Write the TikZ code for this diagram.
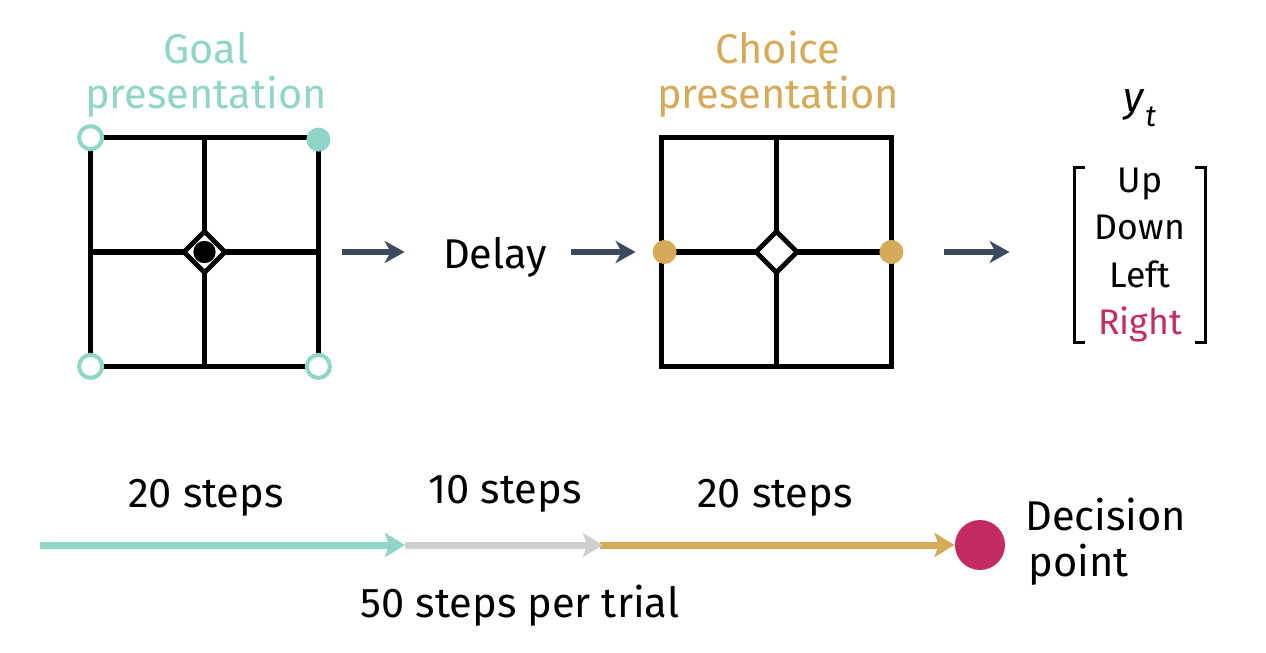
\documentclass[tikz,border=0pt]{standalone}
\usepackage{fontspec}
\setmainfont{Fira Sans}
\usetikzlibrary{arrows.meta,positioning,shapes.geometric}
\definecolor{goalc}{HTML}{8FD5C8}
\definecolor{choicec}{HTML}{D5AA58}
\definecolor{delayc}{HTML}{CFCFCF}
\definecolor{rightc}{HTML}{C42A63}
\definecolor{flowc}{HTML}{3C4A5F}

\begin{document}
\begin{tikzpicture}[x=0.5pt,y=-0.5pt,
    every node/.style={inner sep=0pt, font=\fontsize{20.8}{25}\selectfont},
    label/.style={anchor=base},
    wall/.style={line width=2.6pt, line cap=rect},
    agent/.style={shape=diamond, draw, line width=2.4pt, fill=white,
      minimum size=21.5pt, aspect=1},
    opendot/.style={shape=circle, draw=goalc, line width=2pt, fill=white,
      minimum size=11.5pt},
    fulldot/.style={shape=circle, minimum size=12pt},
    flow/.style={line width=3pt, flowc,
      -{Stealth[length=10pt,width=11pt,inset=3pt]}},
    phase/.style={line width=3.5pt,
      -{Stealth[length=10pt,width=12pt,inset=2pt]}},
    bracket/.style={line width=1.6pt}]
  \useasboundingbox (0,0) rectangle (1266,653);

  % goal presentation
  \node[label, text=goalc] (goaltop) at (206,63) {Goal};
  \node[label, text=goalc] (goalbot) at (206,108) {presentation};
  \node[minimum width=113.5pt, minimum height=114pt] (goalgrid) at (204.5,252) {};
  \draw[wall] (goalgrid.north west) rectangle (goalgrid.south east);
  \draw[wall] (goalgrid.north) -- (goalgrid.south)
    (goalgrid.west) -- (goalgrid.east);
  \node[agent] (goalagent) at (goalgrid.center) {};
  \fill (goalagent.center) circle[radius=5.6pt];
  \node[opendot] (goalnw) at (goalgrid.north west) {};
  \node[opendot] (goalsw) at (goalgrid.south west) {};
  \node[opendot] (goalse) at (goalgrid.south east) {};
  \node[fulldot, fill=goalc] (goalne) at ([yshift=-1pt]goalgrid.north east) {};

  % delay
  \node[label] (delay) at (495,268) {Delay};

  % choice presentation
  \node[label, text=choicec] (choicetop) at (778,63) {Choice};
  \node[label, text=choicec] (choicebot) at (778,108) {presentation};
  \node[minimum width=114.5pt, minimum height=114pt] (choicegrid) at (776.5,252) {};
  \draw[wall] (choicegrid.north west) rectangle (choicegrid.south east);
  \draw[wall] (choicegrid.north) -- (choicegrid.south)
    (choicegrid.west) -- (choicegrid.east);
  \node[agent] (choiceagent) at (choicegrid.center) {};
  \node[fulldot, fill=choicec] (choicew) at ([xshift=1.5pt]choicegrid.west) {};
  \node[fulldot, fill=choicec] (choicee) at (choicegrid.east) {};

  % output
  \node[label] (ylabel) at (1140,112) {\textit{y}\raisebox{-0.35em}{\fontsize{15}{18}\selectfont\textit{t}}};
  \node[align=center, font=\fontsize{17.8}{23.8}\selectfont,
    minimum height=85pt, inner xsep=10pt] (actions) at (1140,255)
    {Up\\Down\\Left\\\textcolor{rightc}{Right}};
  \draw[bracket] ([xshift=5pt]actions.north west) -- (actions.north west)
    -- (actions.south west) -- ([xshift=5pt]actions.south west);
  \draw[bracket] ([xshift=-5pt]actions.north east) -- (actions.north east)
    -- (actions.south east) -- ([xshift=-5pt]actions.south east);

  \draw[flow, shorten <=12pt, shorten >=19pt] (goalgrid) -- (delay.west |- goalgrid);
  \draw[flow, shorten <=12pt, shorten >=13pt] (delay.east |- goalgrid) -- (choicegrid);
  \draw[flow, shorten <=26.5pt, shorten >=32.5pt] (choicegrid) -- (actions.west |- choicegrid);

  % time line
  \coordinate (tstart) at (40,545);
  \coordinate (tdelay) at (405,545);
  \coordinate (tchoice) at (603,545);
  \node[shape=circle, fill=rightc, minimum size=25pt] (decision) at (980,545) {};
  \draw[phase, choicec] ([xshift=-1.5pt]tchoice) -- (decision.west);
  \draw[phase, delayc] (tdelay) -- (tchoice);
  \draw[phase, goalc] (tstart) -- (tdelay);

  \node[label] (goalsteps) at (206,507) {20 steps};
  \node[label] (delaysteps) at (505,503) {10 steps};
  \node[label] (choicesteps) at (775,507) {20 steps};
  \node[label] (trialsteps) at (520,617) {50 steps per trial};
  \node[label, anchor=base west] (decisiontop) at (1025,530) {Decision};
  \node[label, anchor=base west] (decisionbot) at (1028,576) {point};
\end{tikzpicture}
\end{document}
